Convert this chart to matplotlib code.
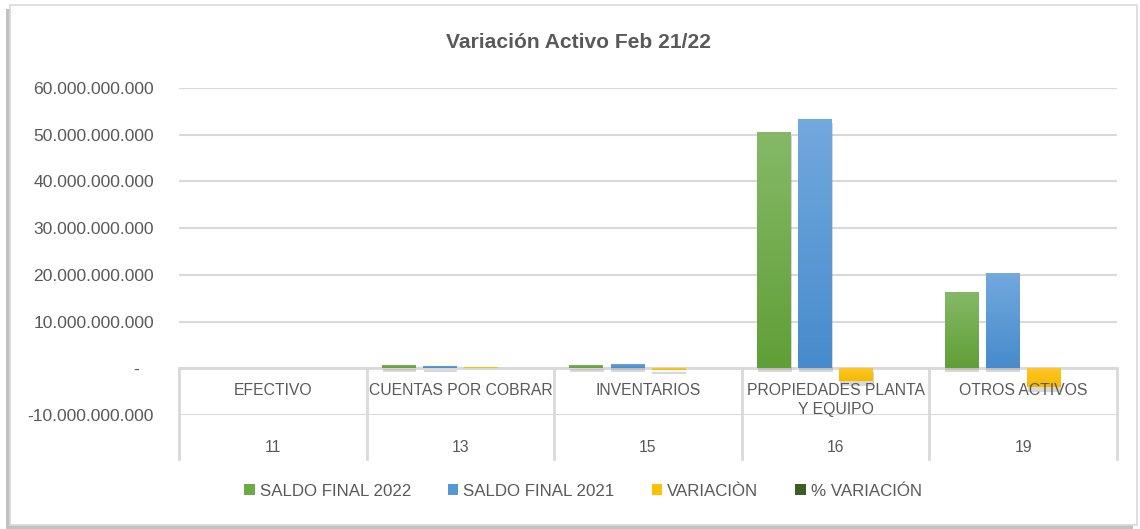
import matplotlib
matplotlib.use("Agg")
import matplotlib.pyplot as plt
import matplotlib.patheffects as pe
from matplotlib import font_manager
from matplotlib.patches import Rectangle, Patch
from matplotlib.colors import LinearSegmentedColormap
import numpy as np

# datos del grafico (valores en pesos)
categorias = ["EFECTIVO", "CUENTAS POR COBRAR", "INVENTARIOS", "PROPIEDADES PLANTA\nY EQUIPO", "OTROS ACTIVOS"]
cuentas = ["11", "13", "15", "16", "19"]
saldo_2022 = [0.03e9, 0.75e9, 0.65e9, 50.6e9, 16.3e9]
saldo_2021 = [0.03e9, 0.55e9, 0.95e9, 53.4e9, 20.4e9]
variacion = [0.0, 0.2e9, -0.3e9, -2.8e9, -4.1e9]
pct_variacion = [0.05, 0.36, -0.32, -0.05, -0.2]
series = ["SALDO FINAL 2022", "SALDO FINAL 2021", "VARIACIÒN", "% VARIACIÓN"]
colores = ["#6eaa46", "#5598d6", "#ffc000", "#3a5e24"]
# degradado (abajo, arriba) de cada serie
degradados = [("#609f37", "#85b967"), ("#478bcc", "#72a9de"), ("#f7b900", "#ffc72a"), ("#34541f", "#44682c")]

nombres = {f.name for f in font_manager.fontManager.ttflist}
if "Liberation Sans Narrow" in nombres:
    fuente = "Liberation Sans Narrow"
    k = 1.0
else:
    fuente = "Liberation Sans"
    k = 0.84
plt.rcParams["font.family"] = [fuente, "DejaVu Sans"]
gris = "#595959"
linea = "#d9d9d9"

fig = plt.figure(figsize=(11.4, 5.29), dpi=100)

# marco del grafico con sombra
marco = Rectangle((10 / 1140, 4 / 529), 1127 / 1140, 520 / 529, transform=fig.transFigure,
                  facecolor="white", edgecolor=linea, linewidth=1.2, zorder=-5,
                  path_effects=[pe.SimplePatchShadow(offset=(-3, -3), shadow_rgbFace="#999999", alpha=0.6), pe.Normal()])
fig.patches.append(marco)

ax = fig.add_axes([179 / 1140, (529 - 415) / 529, 938 / 1140, 327 / 529])
ax.set_facecolor("none")

x = np.arange(len(categorias))
paso = 0.219
ancho = 0.18
datos = [saldo_2022, saldo_2021, variacion, pct_variacion]
sombra = [pe.SimplePatchShadow(offset=(0.5, -3), shadow_rgbFace="#808080", alpha=0.3), pe.Normal()]
grad = np.linspace(0, 1, 100).reshape(-1, 1)
for i, (vals, c, dg) in enumerate(zip(datos, colores, degradados)):
    barras = ax.bar(x + (i - 1.5) * paso, vals, ancho, color=c, zorder=3)
    cm = LinearSegmentedColormap.from_list("g%d" % i, list(dg))
    for b in barras:
        b.set_path_effects(sombra)
        x0, y0 = b.get_x(), b.get_y()
        w, h = b.get_width(), b.get_height()
        if h == 0:
            continue
        lo, hi = min(y0, y0 + h), max(y0, y0 + h)
        im = ax.imshow(grad, extent=[x0, x0 + w, lo, hi], origin="lower", aspect="auto",
                       cmap=cm, zorder=3.5, interpolation="bilinear")
        im.set_clip_path(b)

ax.set_xlim(-0.5, len(categorias) - 0.5)
ax.set_ylim(-10e9, 60e9)
ax.set_yticks(np.arange(-10e9, 61e9, 10e9))


def fmt(v, pos):
    if abs(v) < 1:
        return "-   "
    s = "{:,.0f}".format(v).replace(",", ".")
    return s


ax.yaxis.set_major_formatter(plt.FuncFormatter(fmt))
ax.tick_params(axis="y", length=0, pad=18, labelsize=15 * k, labelcolor=gris)
ax.set_xticks([])
ax.grid(axis="y", color=linea, linewidth=1.5, zorder=0)
for s in ax.spines.values():
    s.set_visible(False)

# tabla de categorias bajo el eje
ax.axhline(0, color=linea, linewidth=2, zorder=2)
tr = ax.get_xaxis_transform()
for b in np.arange(-0.5, len(categorias), 1.0):
    ax.plot([b, b], [10 / 70, -0.135], transform=tr, color=linea, linewidth=2, clip_on=False, zorder=2)
for xi, cat, cu in zip(x, categorias, cuentas):
    ax.text(xi, -3.2e9, cat, ha="center", va="top", fontsize=13.5 * k, color=gris, linespacing=1.35, zorder=4)
    ax.text(xi, -0.098, cu, transform=tr, ha="center", va="center", fontsize=13.5 * k, color=gris)

fig.text(579 / 1140, 1 - 43 / 529, "Variación Activo Feb 21/22", ha="center", va="center",
         fontsize=18 * k, fontweight="bold", color=gris)

handles = [Patch(facecolor=c, edgecolor="none") for c in colores]
fig.legend(handles, series, loc="center", bbox_to_anchor=(583 / 1140, 1 - 491 / 529), ncol=4,
           frameon=False, fontsize=14.5 * k, labelcolor=gris, handlelength=0.6, handleheight=0.6,
           handletextpad=0.3, columnspacing=2.2)

fig.savefig("out.png", dpi=100)
